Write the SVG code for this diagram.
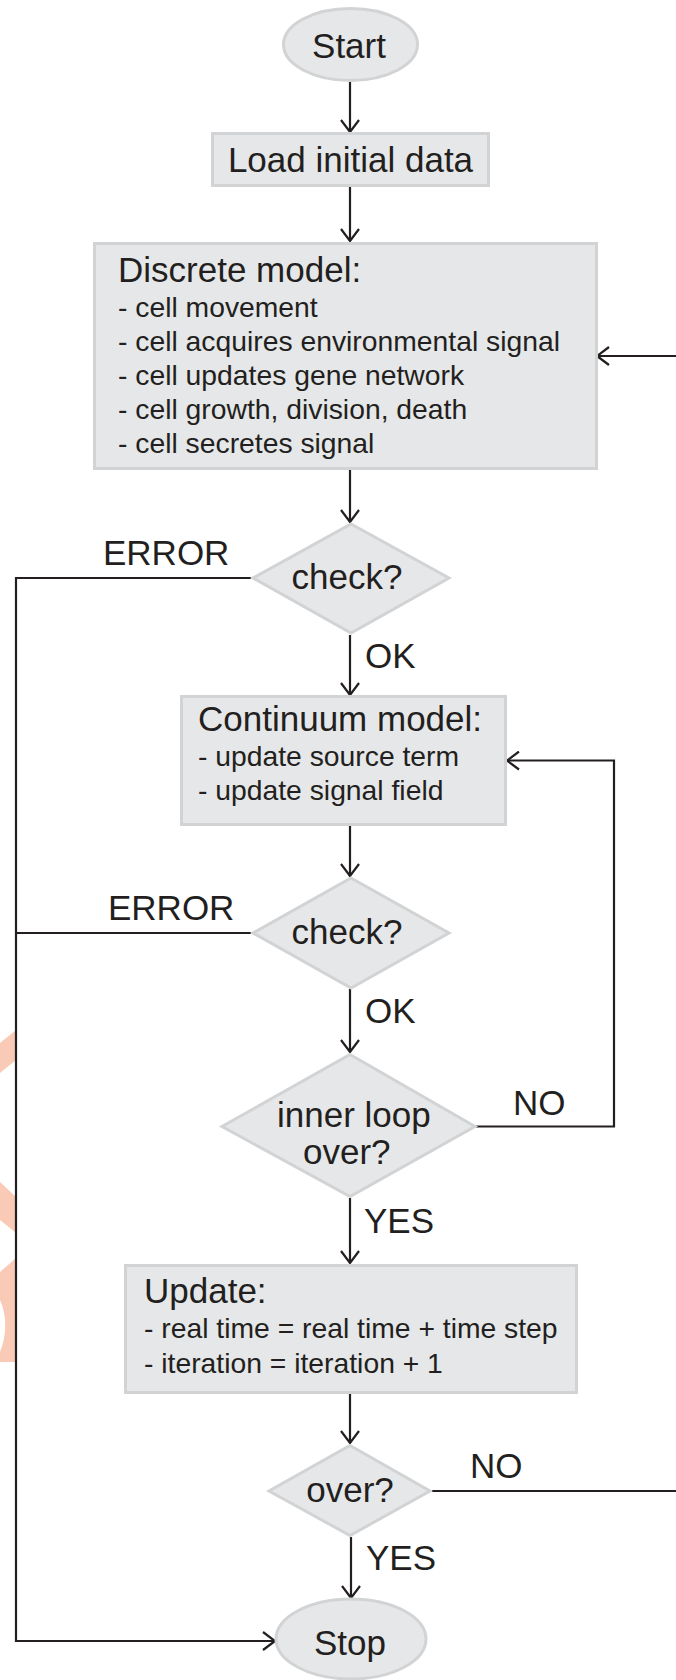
<svg xmlns="http://www.w3.org/2000/svg" width="676" height="1680" viewBox="0 0 676 1680">
  <defs>
    <style>
      .node { fill: #e6e7e8; stroke: #d1d3d4; stroke-width: 3; }
      .t { font-family: "Liberation Sans", Arial, Helvetica, sans-serif; fill: #231f20; }
      .big { font-size: 35px; }
      .small { font-size: 28.3px; }
      .mid { text-anchor: middle; }
      .conn { fill: none; stroke: #231f20; stroke-width: 2.2; }
      .wm { fill: #f9cab5; stroke: none; }
    </style>
    <marker id="arr" viewBox="0 0 14 20" refX="13" refY="10" markerWidth="14" markerHeight="20" orient="auto" markerUnits="userSpaceOnUse">
      <path d="M1,1 L13,10 L1,19" fill="none" stroke="#231f20" stroke-width="2.2"/>
    </marker>
  </defs>
  <rect width="676" height="1680" fill="#ffffff"/>

  <g id="watermark">
    <polygon class="wm" points="0,1043 16,1030 16,1060 0,1073"/>
    <polygon class="wm" points="0,1182 16,1197 16,1233 0,1220"/>
    <path class="wm" d="M0,1272 L16,1258 L16,1362 L0,1362 L0,1352 C7,1335 7,1315 0,1300 Z"/>
  </g>

  <g id="connectors">
    <path class="conn" d="M350,82 V132" marker-end="url(#arr)"/>
    <path class="conn" d="M350,187 V241" marker-end="url(#arr)"/>
    <path class="conn" d="M676,356 H597" marker-end="url(#arr)"/>
    <path class="conn" d="M350,470 V522" marker-end="url(#arr)"/>
    <path class="conn" d="M251,578 H16 V1641 H275" marker-end="url(#arr)"/>
    <path class="conn" d="M350,635 V695" marker-end="url(#arr)"/>
    <path class="conn" d="M350,826 V876" marker-end="url(#arr)"/>
    <path class="conn" d="M251,933 H16"/>
    <path class="conn" d="M350,989 V1052" marker-end="url(#arr)"/>
    <path class="conn" d="M476,1126.5 H614 V760.5 H507" marker-end="url(#arr)"/>
    <path class="conn" d="M350,1198 V1263" marker-end="url(#arr)"/>
    <path class="conn" d="M350,1394 V1443" marker-end="url(#arr)"/>
    <path class="conn" d="M432,1491 H676"/>
    <path class="conn" d="M351,1537 V1598" marker-end="url(#arr)"/>
    <text class="t big" x="103" y="565">ERROR</text>
    <text class="t big" x="365" y="668">OK</text>
    <text class="t big" x="108" y="920">ERROR</text>
    <text class="t big" x="365" y="1023">OK</text>
    <text class="t big" x="513" y="1115">NO</text>
    <text class="t big" x="364" y="1233">YES</text>
    <text class="t big" x="470" y="1478">NO</text>
    <text class="t big" x="366" y="1570">YES</text>
  </g>

  <g id="start">
    <ellipse class="node" cx="350.5" cy="44.5" rx="67" ry="36"/>
    <text class="t big mid" x="349" y="58">Start</text>
  </g>

  <g id="load">
    <rect class="node" x="212.5" y="133.5" width="276" height="52"/>
    <text class="t big mid" x="350.5" y="172">Load initial data</text>
  </g>

  <g id="discrete">
    <rect class="node" x="94.5" y="243.5" width="502" height="225"/>
    <text class="t big" x="118" y="282">Discrete model:</text>
    <text class="t small" x="118" y="317">- cell movement</text>
    <text class="t small" x="118" y="351">- cell acquires environmental signal</text>
    <text class="t small" x="118" y="385">- cell updates gene network</text>
    <text class="t small" x="118" y="419">- cell growth, division, death</text>
    <text class="t small" x="118" y="453">- cell secretes signal</text>
  </g>

  <g id="check1">
    <polygon class="node" points="351,524 449,578 351,633 253,578"/>
    <text class="t big mid" x="347" y="589">check?</text>
  </g>

  <g id="continuum">
    <rect class="node" x="181.5" y="696.5" width="324" height="128"/>
    <text class="t big" x="198" y="731">Continuum model:</text>
    <text class="t small" x="198" y="766">- update source term</text>
    <text class="t small" x="198" y="800">- update signal field</text>
  </g>

  <g id="check2">
    <polygon class="node" points="351,878 449,933 351,988 253,933"/>
    <text class="t big mid" x="347" y="944">check?</text>
  </g>

  <g id="innerloop">
    <polygon class="node" points="350,1054.5 475,1126.5 350,1196.5 222,1126.5"/>
    <text class="t big" x="277" y="1127">inner loop</text>
    <text class="t big" x="303" y="1164">over?</text>
  </g>

  <g id="update">
    <rect class="node" x="125.5" y="1265.5" width="451" height="127"/>
    <text class="t big" x="144" y="1303">Update:</text>
    <text class="t small" x="144" y="1338">- real time = real time + time step</text>
    <text class="t small" x="144" y="1372.5">- iteration = iteration + 1</text>
  </g>

  <g id="over">
    <polygon class="node" points="350,1445.5 430,1491 350,1535.5 269,1491"/>
    <text class="t big mid" x="350" y="1502">over?</text>
  </g>

  <g id="stop">
    <ellipse class="node" cx="351" cy="1639" rx="75" ry="40"/>
    <text class="t big mid" x="350" y="1655">Stop</text>
  </g>
</svg>
